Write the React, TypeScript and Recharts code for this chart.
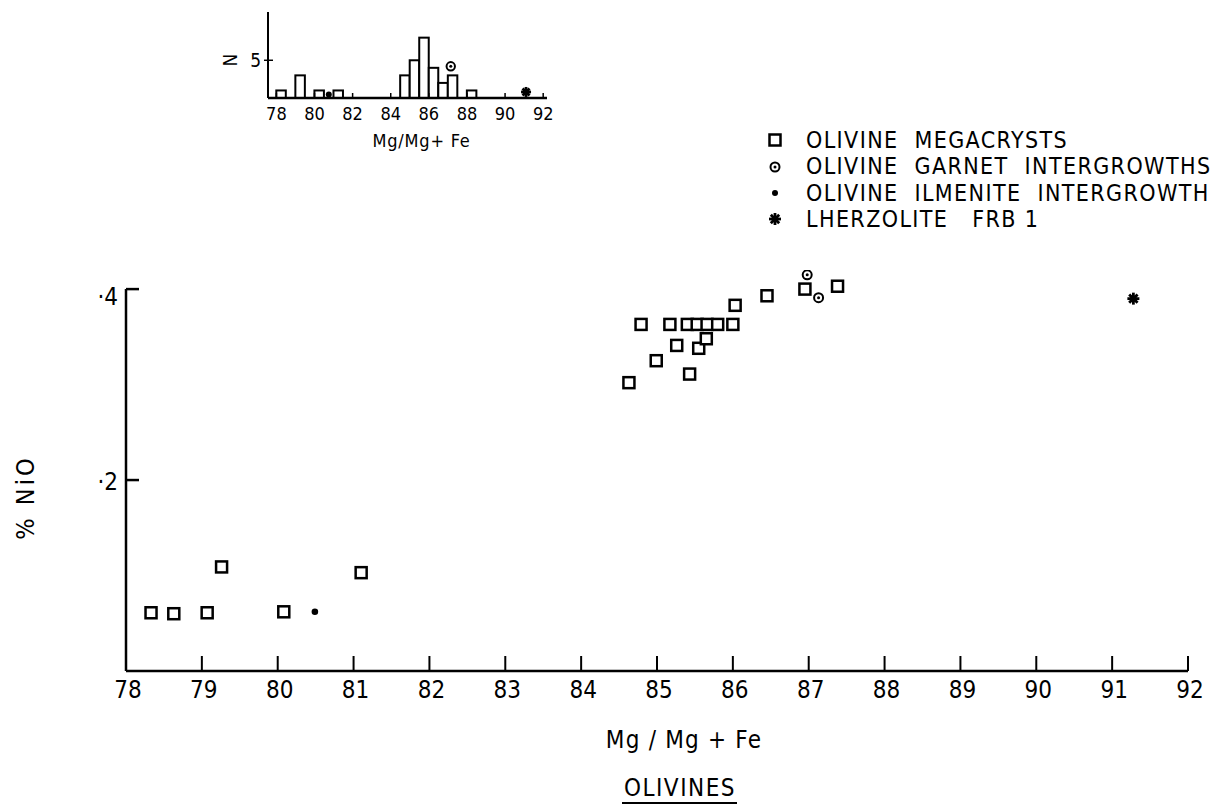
import React from "react";
import {
  ScatterChart,
  Scatter,
  XAxis,
  YAxis,
  ComposedChart,
  Bar,
  Legend,
  ReferenceLine,
  Label,
} from "recharts";

const FONT = "'DejaVu Sans Condensed', 'Liberation Sans Narrow', 'DejaVu Sans', sans-serif";

// main plot: 100 Mg/(Mg+Fe) against % NiO
const megacrysts = [
  { mg: 78.33, nio: 0.061 },
  { mg: 78.63, nio: 0.06 },
  { mg: 79.07, nio: 0.061 },
  { mg: 79.26, nio: 0.109 },
  { mg: 80.08, nio: 0.062 },
  { mg: 81.1, nio: 0.103 },
  { mg: 84.63, nio: 0.302 },
  { mg: 84.99, nio: 0.325 },
  { mg: 85.26, nio: 0.341 },
  { mg: 85.43, nio: 0.311 },
  { mg: 85.55, nio: 0.338 },
  { mg: 85.65, nio: 0.348 },
  { mg: 84.79, nio: 0.363 },
  { mg: 85.17, nio: 0.363 },
  { mg: 85.4, nio: 0.363 },
  { mg: 85.53, nio: 0.363 },
  { mg: 85.66, nio: 0.363 },
  { mg: 85.8, nio: 0.363 },
  { mg: 86.0, nio: 0.363 },
  { mg: 86.03, nio: 0.383 },
  { mg: 86.45, nio: 0.393 },
  { mg: 86.95, nio: 0.4 },
  { mg: 87.38, nio: 0.403 },
];
const garnetIntergrowths = [
  { mg: 86.98, nio: 0.415 },
  { mg: 87.13, nio: 0.391 },
];
const ilmeniteIntergrowth = [{ mg: 80.49, nio: 0.062 }];
const lherzolite = [{ mg: 91.28, nio: 0.39 }];

const xTicks = [78, 79, 80, 81, 82, 83, 84, 85, 86, 87, 88, 89, 90, 91, 92];
const yTicks = [0.2, 0.4];

// inset histogram (0.5 wide bins, given by their centres)
const histBins = [78.25, 79.25, 80.25, 81.25, 84.75, 85.25, 85.75, 86.25, 86.75, 87.25, 88.25];
const histCounts = [1, 3, 1, 1, 3, 5, 8, 4, 2, 3, 1];
const histTicks = [78, 80, 82, 84, 86, 88, 90, 92];
const insetGarnet = [{ mg: 87.15, count: 4.2 }];
const insetIlmenite = [{ mg: 80.75, count: 0.45 }];
const insetLherzolite = [{ mg: 91.1, count: 0.8 }];

const histData = histBins.map((mg, i) => ({ mg, count: histCounts[i] }));

const NAMES = {
  mega: "OLIVINE  MEGACRYSTS",
  garnet: "OLIVINE  GARNET  INTERGROWTHS",
  ilm: "OLIVINE  ILMENITE  INTERGROWTH",
  lherz: "LHERZOLITE   FRB 1",
};
const legendOrder = [NAMES.mega, NAMES.garnet, NAMES.ilm, NAMES.lherz];

const Square = ({ cx, cy, s = 11 }: any) => (
  <rect x={cx - s / 2} y={cy - s / 2} width={s} height={s} fill="#fff" stroke="#000" strokeWidth={2.5} />
);
const Ringed = ({ cx, cy, r = 4.5 }: any) => (
  <g>
    <circle cx={cx} cy={cy} r={r} fill="#fff" stroke="#000" strokeWidth={2} />
    <circle cx={cx} cy={cy} r={1.5} fill="#000" />
  </g>
);
const Dot = ({ cx, cy, r = 3.3 }: any) => <circle cx={cx} cy={cy} r={r} fill="#000" />;
const Star = ({ cx, cy, s = 6 }: any) => (
  <g stroke="#000" strokeWidth={2.8}>
    <line x1={cx} x2={cx} y1={cy - s} y2={cy + s} />
    <line x1={cx - s} x2={cx + s} y1={cy} y2={cy} />
    <line x1={cx - s * 0.7} x2={cx + s * 0.7} y1={cy - s * 0.7} y2={cy + s * 0.7} />
    <line x1={cx - s * 0.7} x2={cx + s * 0.7} y1={cy + s * 0.7} y2={cy - s * 0.7} />
    <circle cx={cx} cy={cy} r={3.2} fill="#000" stroke="none" />
  </g>
);

// fixed-width histogram bar, centred on the bin
const HistBar = ({ x, y, width, height }: any) => {
  if (!height) return null;
  const mid = x + width / 2;
  return <rect x={mid - 4.75} y={y} width={9.5} height={height} fill="#fff" stroke="#000" strokeWidth={2} />;
};

const legendMark = (name: string) => {
  if (name === NAMES.mega) return <Square cx={13} cy={11} s={11} />;
  if (name === NAMES.garnet) return <Ringed cx={13} cy={12} r={4.5} />;
  if (name === NAMES.ilm) return <Dot cx={13} cy={11} r={3} />;
  return <Star cx={13} cy={11} s={6} />;
};

const LegendBox = () => (
  <div style={{ fontFamily: FONT, fontSize: 23, color: "#000", letterSpacing: 1.4 }}>
    {legendOrder.map((name) => (
      <div key={name} style={{ display: "flex", alignItems: "center", height: 26.3, whiteSpace: "pre" }}>
        <svg width={28} height={22}>{legendMark(name)}</svg>
        <span style={{ marginLeft: 16, lineHeight: "26px" }}>{name}</span>
      </div>
    ))}
  </div>
);

const MainXTick = ({ x, y, payload }: any) => (
  <g>
    <line x1={x} x2={x} y1={y} y2={y - 15} stroke="#000" strokeWidth={2} />
    <text x={x + 2} y={y + 19} textAnchor="middle" dominantBaseline="central" fontSize={24} fontFamily={FONT} fill="#000">
      {payload.value}
    </text>
  </g>
);

const MainYTick = ({ x, y, payload }: any) => (
  <g>
    <line x1={x} x2={x + 13} y1={y} y2={y} stroke="#000" strokeWidth={2.5} />
    <text
      x={x - 8}
      y={payload.value === 0.4 ? y + 8 : y + 2}
      textAnchor="end"
      dominantBaseline="central"
      fontSize={24}
      fontFamily={FONT}
      fill="#000"
    >
      {"·" + String(payload.value).slice(2)}
    </text>
  </g>
);

const MainXLabel = ({ viewBox }: any) => {
  const cx = viewBox.x + viewBox.width / 2;
  const top = viewBox.y;
  return (
    <g fontFamily={FONT} fill="#000">
      <text
        x={cx + 27}
        y={top + 69}
        textAnchor="middle"
        dominantBaseline="central"
        fontSize={24}
        letterSpacing={1.2}
        style={{ whiteSpace: "pre" }}
      >
        Mg / Mg + Fe
      </text>
      <text x={cx + 23} y={top + 117} textAnchor="middle" dominantBaseline="central" fontSize={24} letterSpacing={1.5}>
        OLIVINES
      </text>
      <line x1={cx - 35} x2={cx + 80} y1={top + 132} y2={top + 132} stroke="#000" strokeWidth={2} />
    </g>
  );
};

const MainYLabel = ({ viewBox }: any) => {
  const x = viewBox.x + 25;
  const y = viewBox.y + viewBox.height / 2 + 27;
  return (
    <text
      x={x}
      y={y}
      transform={`rotate(-90 ${x} ${y})`}
      textAnchor="middle"
      dominantBaseline="central"
      fontSize={25}
      letterSpacing={3}
      style={{ whiteSpace: "pre" }}
      fontFamily={FONT}
      fill="#000"
    >
      % NiO
    </text>
  );
};

const InsetXTick = ({ x, y, payload }: any) => (
  <g>
    <line x1={x} x2={x} y1={y} y2={y - 5} stroke="#000" strokeWidth={1.5} />
    <text x={x} y={y + 15} textAnchor="middle" dominantBaseline="central" fontSize={18} fontFamily={FONT} fill="#000">
      {payload.value}
    </text>
  </g>
);

const InsetYTick = ({ x, y, payload }: any) => (
  <g>
    <line x1={x - 4} x2={x + 5} y1={y} y2={y} stroke="#000" strokeWidth={1.5} />
    <text x={x - 7} y={y} textAnchor="end" dominantBaseline="central" fontSize={19} fontFamily={FONT} fill="#000">
      {payload.value}
    </text>
  </g>
);

const InsetYLabel = ({ viewBox }: any) => {
  const x = viewBox.x + viewBox.width - 38;
  const y = viewBox.y + 48;
  return (
    <text
      x={x}
      y={y}
      transform={`rotate(-90 ${x} ${y})`}
      textAnchor="middle"
      dominantBaseline="central"
      fontSize={19}
      fontFamily={FONT}
      fill="#000"
    >
      N
    </text>
  );
};

const InsetXLabel = ({ viewBox }: any) => (
  <text
    x={viewBox.x + viewBox.width / 2 + 14}
    y={viewBox.y + 42}
    textAnchor="middle"
    dominantBaseline="central"
    fontSize={18}
    letterSpacing={0.8}
    fontFamily={FONT}
    fill="#000"
  >
    Mg/Mg+ Fe
  </text>
);

const Inset = () => (
  <div style={{ position: "absolute", left: 0, top: 0 }}>
    <ComposedChart width={600} height={160} data={histData} margin={{ top: 12, right: 53, left: 0, bottom: 0 }}>
      <XAxis
        type="number"
        dataKey="mg"
        domain={[77.56, 92.2]}
        allowDataOverflow
        ticks={histTicks}
        interval={0}
        height={62}
        tickLine={false}
        tickSize={0}
        tickMargin={0}
        axisLine={{ stroke: "#000", strokeWidth: 2.5 }}
        tick={<InsetXTick />}
      >
        <Label content={<InsetXLabel />} />
      </XAxis>
      <YAxis
        type="number"
        dataKey="count"
        domain={[0, 11.4]}
        allowDataOverflow
        ticks={[5]}
        interval={0}
        width={268}
        tickLine={false}
        tickSize={0}
        tickMargin={0}
        axisLine={{ stroke: "#000", strokeWidth: 2 }}
        tick={<InsetYTick />}
      >
        <Label content={<InsetYLabel />} />
      </YAxis>
      <Bar dataKey="count" barSize={9.5} shape={<HistBar />} isAnimationActive={false} />
      <Scatter data={insetGarnet} shape={(p: any) => <Ringed cx={p.cx} cy={p.cy} r={4.2} />} isAnimationActive={false} />
      <Scatter data={insetIlmenite} shape={(p: any) => <Dot cx={p.cx} cy={p.cy} r={3} />} isAnimationActive={false} />
      <Scatter data={insetLherzolite} shape={(p: any) => <Star cx={p.cx} cy={p.cy} s={5} />} isAnimationActive={false} />
    </ComposedChart>
  </div>
);

export default function App() {
  return (
    <div style={{ position: "absolute", left: 0, top: 0, width: 1224, height: 804, background: "#fff" }}>
      <div style={{ position: "absolute", left: 0, top: 0 }}>
        <ScatterChart width={1224} height={804} margin={{ top: 270, right: 36, left: 0, bottom: 0 }}>
          <XAxis
            type="number"
            dataKey="mg"
            domain={[78, 92]}
            allowDataOverflow
            ticks={xTicks}
            interval={0}
            height={133}
            tickLine={false}
            tickSize={0}
            tickMargin={0}
            axisLine={{ stroke: "#000", strokeWidth: 2.5 }}
            tick={<MainXTick />}
          >
            <Label content={<MainXLabel />} />
          </XAxis>
          <YAxis
            type="number"
            dataKey="nio"
            domain={[0, 0.42]}
            allowDataOverflow
            ticks={yTicks}
            interval={0}
            width={126}
            tickLine={false}
            tickSize={0}
            tickMargin={0}
            axisLine={false}
            tick={<MainYTick />}
          >
            <Label content={<MainYLabel />} />
          </YAxis>
          <ReferenceLine
            segment={[
              { x: 78, y: 0 },
              { x: 78, y: 0.4 },
            ]}
            stroke="#000"
            strokeWidth={2.5}
          />
          <Scatter name={NAMES.mega} data={megacrysts} shape={(p: any) => <Square cx={p.cx} cy={p.cy} />} isAnimationActive={false} />
          <Scatter name={NAMES.garnet} data={garnetIntergrowths} shape={(p: any) => <Ringed cx={p.cx} cy={p.cy} />} isAnimationActive={false} />
          <Scatter name={NAMES.ilm} data={ilmeniteIntergrowth} shape={(p: any) => <Dot cx={p.cx} cy={p.cy} />} isAnimationActive={false} />
          <Scatter name={NAMES.lherz} data={lherzolite} shape={(p: any) => <Star cx={p.cx} cy={p.cy} />} isAnimationActive={false} />
          <Legend
            layout="vertical"
            align="center"
            verticalAlign="middle"
            content={<LegendBox />}
            wrapperStyle={{ left: 762, top: 127, width: 460 }}
          />
        </ScatterChart>
      </div>
      <Inset />
    </div>
  );
}
